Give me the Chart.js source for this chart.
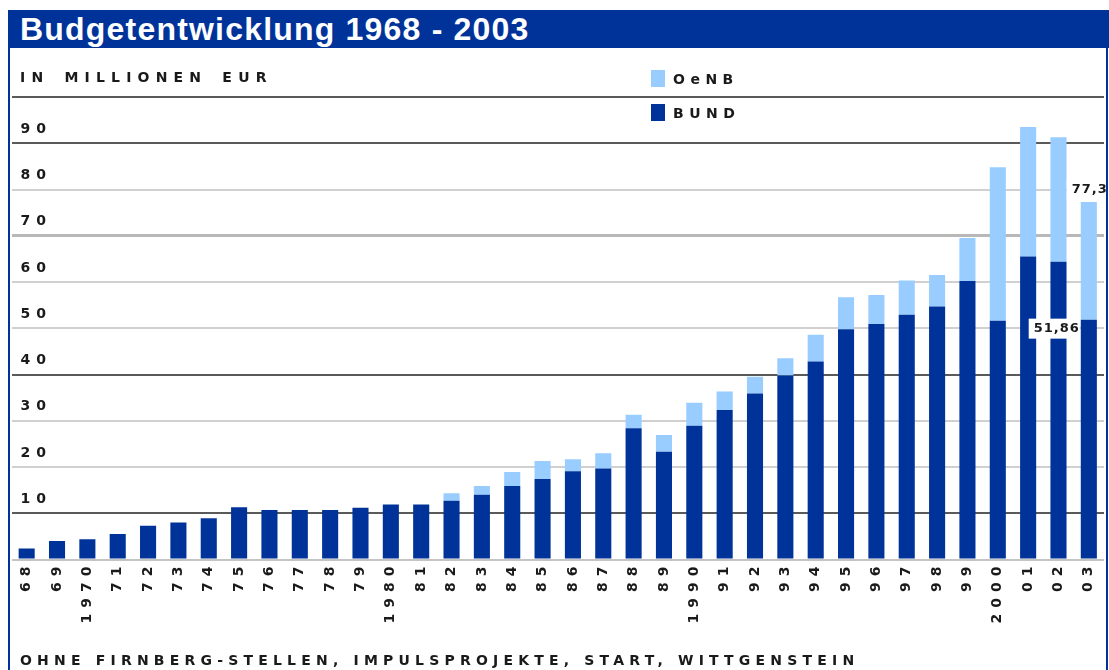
<!DOCTYPE html>
<html lang="de">
<head>
<meta charset="utf-8">
<title>Budgetentwicklung 1968 - 2003</title>
<script src="https://cdn.jsdelivr.net/npm/chart.js@4.4.1/dist/chart.umd.min.js"></script>
<style>
  body { margin: 0; background: #fff; }
  #box { position: relative; width: 1109px; height: 670px; overflow: hidden; font-family: "DejaVu Sans", sans-serif; color: #1a1a1a; }
  #chart { position: absolute; left: 0; top: 0; }
  .frame { position: absolute; background: #003399; }
  #title { position: absolute; left: 8px; top: 10px; width: 1101px; height: 38px; padding-left: 12px; box-sizing: border-box;
           background: #003399; color: #fff; font: bold 32px "Liberation Sans", Arial, sans-serif; letter-spacing: 1.2px; line-height: 38px; white-space: nowrap; }
  .note { position: absolute; font-size: 14px; font-weight: bold; letter-spacing: 5.2px; white-space: nowrap; line-height: 16px; }
  #unit { left: 20px; top: 69px; letter-spacing: 6.2px; word-spacing: 4px; }
  #footnote { left: 20px; top: 652px; }
  #legend { position: absolute; left: 651px; top: 70px; }
  .item { position: absolute; left: 0; white-space: nowrap; }
  .swatch { position: absolute; left: 0; top: 0; width: 14px; height: 17px; }
  .item span.label { position: absolute; left: 22px; top: 1px; font-size: 14px; font-weight: bold; letter-spacing: 5.5px; line-height: 16px; }
</style>
</head>
<body>
<div id="box">
  <canvas id="chart" width="1109" height="670"></canvas>
  <div class="frame" style="left:8px;top:10px;width:2px;height:660px"></div>
  <div class="frame" style="left:1106px;top:10px;width:2px;height:660px"></div>
  <div id="title">Budgetentwicklung 1968 - 2003</div>
  <div class="note" id="unit">IN MILLIONEN EUR</div>
  <div id="legend"></div>
  <div class="note" id="footnote">OHNE FIRNBERG-STELLEN, IMPULSPROJEKTE, START, WITTGENSTEIN</div>
</div>
<script>
// Jahre 1968 - 2003, Beschriftung wie im Budgetbericht
const years = ["68", "69", "1970", "71", "72", "73", "74", "75", "76", "77", "78", "79",
  "1980", "81", "82", "83", "84", "85", "86", "87", "88", "89",
  "1990", "91", "92", "93", "94", "95", "96", "97", "98", "99",
  "2000", "01", "02", "03"];

// Mio. EUR
const bund = [2.4, 4.0, 4.4, 5.5, 7.3, 8.0, 8.9, 11.3, 10.7, 10.7, 10.7, 11.2,
  11.9, 11.9, 12.7, 14.0, 15.9, 17.4, 19.1, 19.7, 28.4, 23.3,
  28.9, 32.3, 35.9, 39.8, 42.8, 49.8, 50.9, 52.9, 54.7, 60.2,
  51.6, 65.5, 64.4, 51.86];
const oenb = [0, 0, 0, 0, 0, 0, 0, 0, 0, 0, 0, 0,
  0, 0, 1.6, 1.9, 3.0, 3.9, 2.6, 3.3, 2.9, 3.6,
  5.0, 4.0, 3.6, 3.7, 5.8, 6.9, 6.3, 7.4, 6.8, 9.3,
  33.2, 28.0, 26.9, 25.44];

const yTicks = [0, 10, 20, 30, 40, 50, 60, 70, 80, 90, 100];

const DARK = "#003399";
const LIGHT = "#99ccff";
const tickFont = { family: "DejaVu Sans", size: 14, weight: "bold" };

function gridColor(v) {
  if (v === 100 || v === 90 || v === 40 || v === 10) return "#5a5a5a";
  if (v === 70) return "#b8b8b8";
  if (v === 0) return "#c4c4c4";
  return "#d0d0d0";
}

function fmt(v) {
  return v.toLocaleString("de-DE", { maximumFractionDigits: 2 });
}

// breite Sperrschrift fuer alle Achsentexte
const spacing = {
  id: "spacing",
  beforeDraw(chart) {
    chart.ctx.letterSpacing = "6px";
  }
};

// Werte fuer 2003 (Summe und Bund) mit weissem Hintergrund
const valueLabels = {
  id: "valueLabels",
  afterDatasetsDraw(chart) {
    const ctx = chart.ctx;
    const last = years.length - 1;
    const low = chart.getDatasetMeta(0).data[last];
    const high = chart.getDatasetMeta(1).data[last];
    ctx.save();
    ctx.font = 'bold 13px "DejaVu Sans"';
    ctx.letterSpacing = "1px";
    ctx.textAlign = "right";
    ctx.textBaseline = "middle";
    const boxed = (text, x, y) => {
      const w = ctx.measureText(text).width;
      ctx.fillStyle = "#fff";
      ctx.fillRect(x - w - 3, y - 10, w + 5, 20);
      ctx.fillStyle = "#1a1a1a";
      ctx.fillText(text, x + 2, y);
    };
    boxed(fmt(bund[last] + oenb[last]), high.x + 17, high.y - 12);
    boxed(fmt(bund[last]), low.x - 11, low.y + 9);
    ctx.restore();
  }
};

const chart = new Chart(document.getElementById("chart"), {
  type: "bar",
  data: {
    labels: years,
    datasets: [
      { label: "BUND", data: bund, backgroundColor: DARK },
      { label: "OeNB", data: oenb, backgroundColor: LIGHT }
    ]
  },
  options: {
    responsive: false,
    animation: false,
    datasets: { bar: { barPercentage: 0.53, categoryPercentage: 1, borderWidth: 0 } },
    layout: { padding: { left: 11.5, right: 5, top: 97, bottom: 30.5 } },
    plugins: {
      legend: { display: false },
      tooltip: { enabled: false }
    },
    scales: {
      x: {
        stacked: true,
        grid: { display: false, drawTicks: false },
        border: { display: false },
        ticks: { autoSkip: false, maxRotation: 90, minRotation: 90, padding: 1, color: "#1a1a1a", font: tickFont },
        afterFit(scale) { scale.height = 80; }
      },
      y: {
        stacked: true,
        min: yTicks[0],
        max: yTicks[yTicks.length - 1],
        grid: {
          drawTicks: false,
          color: (c) => gridColor(c.tick.value),
          lineWidth: (c) => (c.tick.value === 70 ? 3 : 2)
        },
        border: { display: false },
        ticks: {
          stepSize: 10,
          mirror: true,
          padding: 9,
          labelOffset: -14,
          color: "#1a1a1a",
          font: tickFont,
          callback: (v) => (v === 0 || v === 100 ? "" : v)
        },
        afterFit(scale) { scale.width = 0; }
      }
    }
  },
  plugins: [spacing, valueLabels]
});

// Legende: oberer Balkenteil zuerst
const legend = document.getElementById("legend");
chart.data.datasets.slice().reverse().forEach((ds, i) => {
  const item = document.createElement("div");
  item.className = "item";
  item.style.top = (i * 34) + "px";
  item.innerHTML = '<div class="swatch" style="background:' + ds.backgroundColor + '"></div><span class="label">' + ds.label + '</span>';
  legend.appendChild(item);
});
</script>
</body>
</html>
